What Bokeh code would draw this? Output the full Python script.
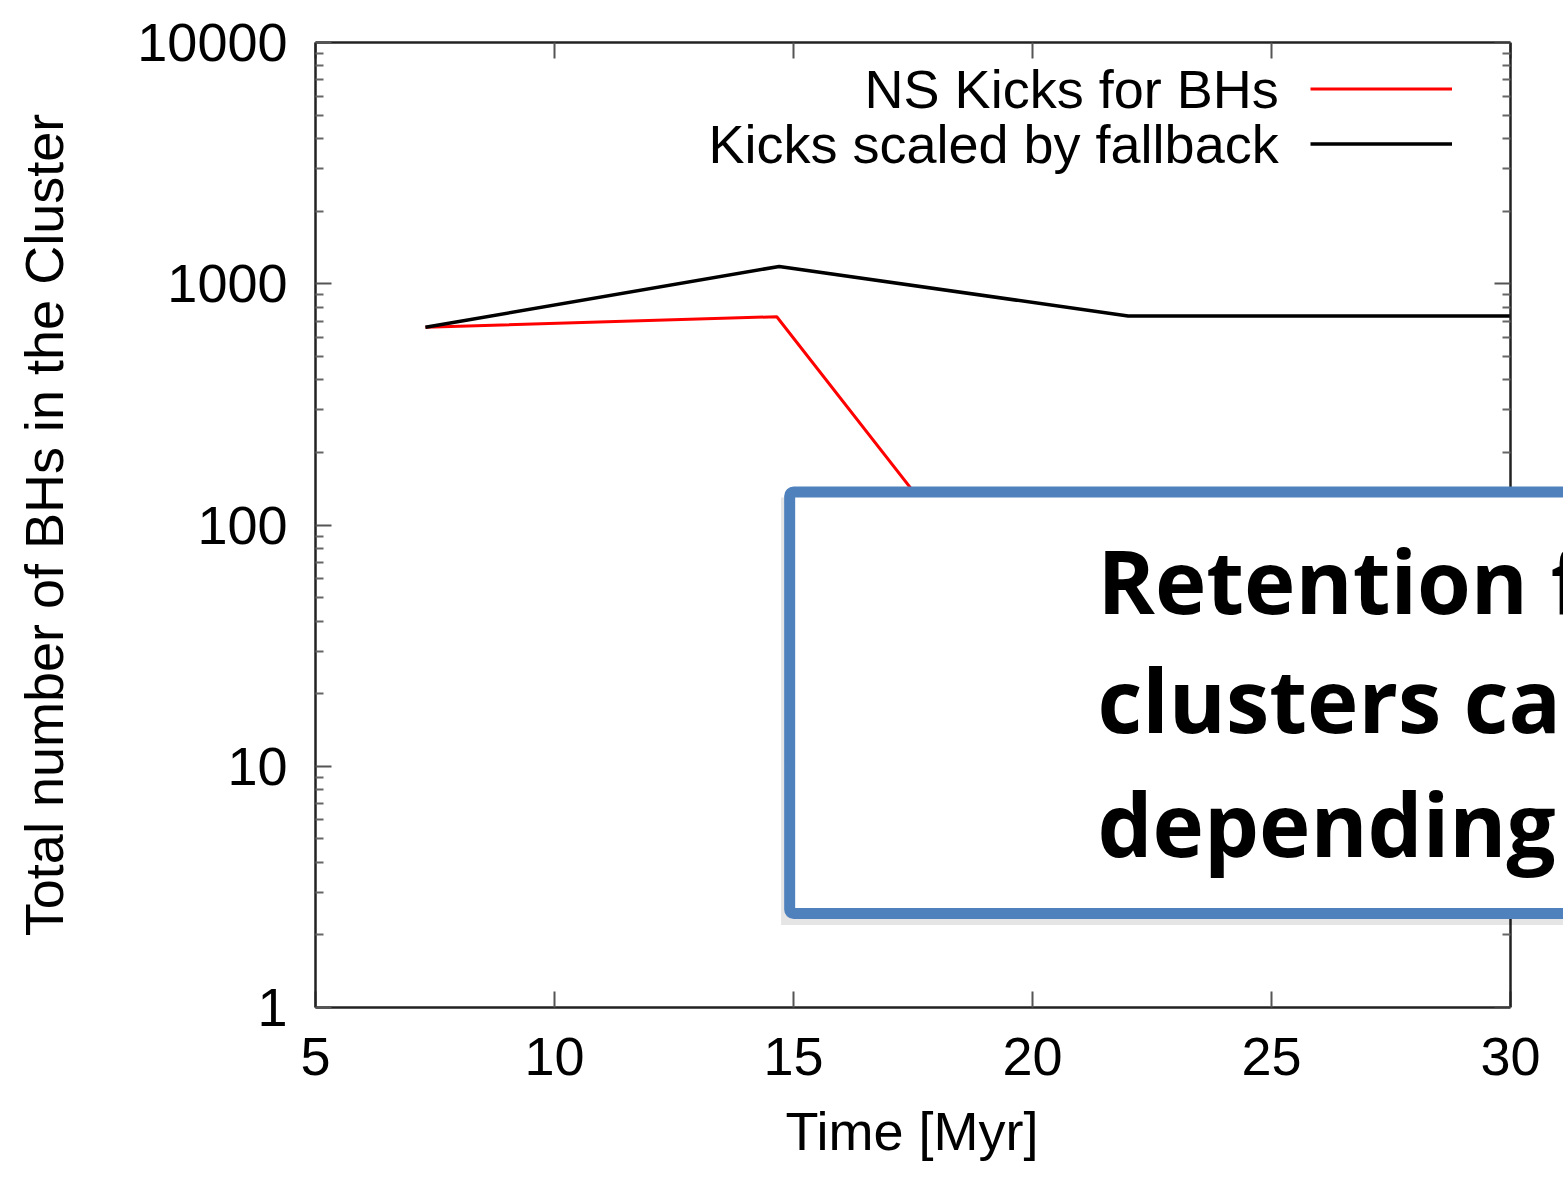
from bokeh.plotting import figure
from bokeh.models import (Range1d, FixedTicker, LogAxis, LinearAxis, BoxAnnotation, Label,
                          Legend, LegendItem, CustomJSTickFormatter, Title)
from bokeh.embed import file_html
from bokeh.resources import INLINE

# ---- data ----
time_fallback = [7.3, 14.7, 22.0, 30.0]
bh_fallback = [660, 1180, 735, 735]
time_ns = [7.3, 14.65, 22.0, 30.0]
bh_ns = [660, 730, 10, 10]
x_ticks = [5, 10, 15, 20, 25, 30]
x_tick_labels = ["5", "10", "15", "20", "25", "30"]
y_ticks = [1, 10, 100, 1000, 10000]
y_tick_labels = ["1", "10", "100", "1000", "10000"]
legend_labels = ["NS Kicks for BHs", "Kicks scaled by fallback"]
box_lines = ["Retention f", "clusters ca", "depending"]
x_title = "Time [Myr]"
y_title = "Total number of BHs in the Cluster"

FONT = "Liberation Sans"
X0, X1 = x_ticks[0], x_ticks[-1]
# frame continues past the axis box so the callout can run to the page edge
x_view_end = X0 + (X1 - X0) * 1248 / 1195

p = figure(width=1563, height=1182, x_range=Range1d(X0, x_view_end), y_range=Range1d(1, 10000),
           y_axis_type="log", output_backend="svg", toolbar_location=None,
           min_border_left=315, min_border_right=0, min_border_top=42, min_border_bottom=174)
p.xgrid.visible = False
p.ygrid.visible = False
p.outline_line_color = None
p.background_fill_color = "white"
p.border_fill_color = "white"

minor_y = [m * 10 ** k for k in range(4) for m in range(2, 10)]


def style(ax):
    ax.axis_line_width = 2.5
    ax.axis_line_color = "#222222"
    ax.major_tick_in = 16
    ax.major_tick_out = 0
    ax.minor_tick_in = 8
    ax.minor_tick_out = 0
    ax.major_tick_line_width = 2
    ax.major_tick_line_color = "#555555"
    ax.minor_tick_line_width = 2
    ax.minor_tick_line_color = "#666666"
    ax.major_label_text_font = FONT
    ax.major_label_text_font_size = "54px"
    ax.major_label_text_color = "black"
    ax.axis_label_text_font = FONT
    ax.axis_label_text_font_size = "54px"
    ax.axis_label_text_font_style = "normal"
    ax.axis_label_text_color = "black"


xa = p.xaxis[0]
xa.ticker = FixedTicker(ticks=x_ticks, minor_ticks=[])
xa.major_label_overrides = {t: l for t, l in zip(x_ticks, x_tick_labels)}
xa.bounds = (X0, X1)
style(xa)
xa.major_label_standoff = 30

# x-axis title centred under the axis span (the frame itself is wider)
xt = Title(text=x_title, align="left", offset=470, text_font=FONT, text_font_size="54px",
           text_font_style="normal", text_color="black", standoff=43)
p.add_layout(xt, "below")

ya = p.yaxis[0]
ya.ticker = FixedTicker(ticks=y_ticks, minor_ticks=minor_y)
ya.major_label_overrides = {t: l for t, l in zip(y_ticks, y_tick_labels)}
ya.axis_label = y_title
style(ya)
ya.major_label_standoff = 28
ya.axis_label_standoff = 60

blank = CustomJSTickFormatter(code="return ''")
top = LinearAxis(ticker=FixedTicker(ticks=x_ticks, minor_ticks=[]), formatter=blank, bounds=(X0, X1))
style(top)
top.major_label_text_font_size = "0px"
top.major_label_standoff = 0
p.add_layout(top, "above")
right = LogAxis(ticker=FixedTicker(ticks=y_ticks, minor_ticks=minor_y), formatter=blank,
                fixed_location=X1)
style(right)
right.major_label_text_font_size = "0px"
right.major_label_standoff = 0
p.add_layout(right, "right")

r_ns = p.line(time_ns, bh_ns, line_color="#FF0000", line_width=3)
r_fb = p.line(time_fallback, bh_fallback, line_color="black", line_width=3.5)

legend = Legend(items=[LegendItem(label="", renderers=[r_ns]),
                       LegendItem(label="", renderers=[r_fb])],
                location=(995, 836), glyph_width=142, glyph_height=55, spacing=0,
                padding=0, margin=0, label_standoff=0, label_width=0, label_height=0,
                border_line_color=None, background_fill_alpha=0)
p.add_layout(legend)

for txt, yv in zip(legend_labels, [6387, 3782]):
    p.add_layout(Label(x=25.15, y=yv, text=txt, text_align="right", text_baseline="middle",
                       text_font=FONT, text_font_size="54px", text_color="black"))

# callout box overlay
shadow = BoxAnnotation(left=14.74, right=40, top=130, bottom=2.2,
                       fill_color="black", fill_alpha=0.10, line_color=None)
p.add_layout(shadow)
box = BoxAnnotation(left=14.92, right=40, top=137, bottom=2.45,
                    fill_color="white", fill_alpha=1.0, line_color="#4F81BD", line_alpha=1.0,
                    line_width=11, border_radius=4)
p.add_layout(box)
for txt, yv in zip(box_lines, [59.0, 19.0, 5.8]):
    p.add_layout(Label(x=21.36, y=yv, text=txt, text_align="left", text_baseline="alphabetic",
                       text_font="Open Sans", text_font_style="bold", text_font_size="87px",
                       text_color="black"))

open("out.html", "w").write(file_html(p, INLINE))
